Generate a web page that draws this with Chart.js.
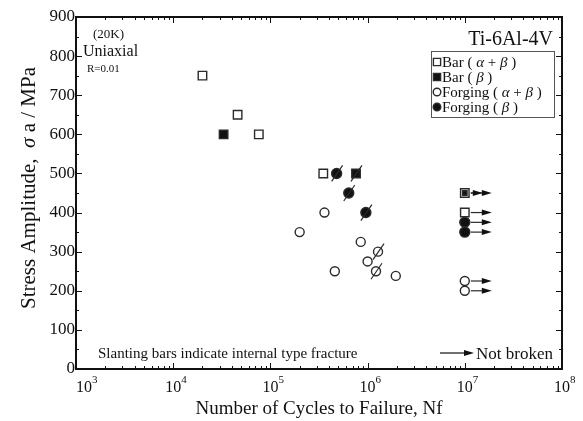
<!DOCTYPE html>
<html>
<head>
<meta charset="utf-8">
<script src="https://cdn.jsdelivr.net/npm/chart.js@4.4.0/dist/chart.umd.min.js"></script>
<style>
  html, body { margin: 0; padding: 0; background: #fff; }
</style>
</head>
<body>
<canvas id="snChart" width="583" height="421"></canvas>
<script>
const SERIF = '"Liberation Serif", "DejaVu Serif", serif';

// cycles to failure, stress amplitude (MPa), note: S = slanting bar (internal fracture), R = not broken
const barAlphaBetaN = [2.0e4, 4.6e4, 7.6e4, 3.5e5, 1e7, 1e7];
const barAlphaBetaS = [750, 650, 600, 500, 450, 400];
const barAlphaBetaNote = ['', '', '', '', 'R', 'R'];

const barBetaN = [3.3e4, 7.6e5, 1e7];
const barBetaS = [600, 500, 450];
const barBetaNote = ['', 'S', 'R'];

const forgAlphaBetaN = [3.6e5, 2.0e5, 8.5e5, 1.28e6, 1.0e6, 1.22e6, 4.6e5, 1.95e6, 1e7, 1e7];
const forgAlphaBetaS = [400, 350, 325, 300, 275, 250, 250, 238, 225, 200];
const forgAlphaBetaNote = ['', '', '', 'S', '', 'S', '', '', 'R', 'R'];

const forgBetaN = [4.8e5, 6.4e5, 9.6e5, 1e7, 1e7];
const forgBetaS = [500, 450, 400, 375, 350];
const forgBetaNote = ['S', 'S', 'S', 'R', 'R'];

const legendLabels = ['Bar ( α + β )', 'Bar ( β )', 'Forging ( α + β )', 'Forging ( β )'];
const xDecades = [3, 4, 5, 6, 7, 8];
const yTicks = [0, 100, 200, 300, 400, 500, 600, 700, 800, 900];

const INK = '#2a2a2a';

function points(n, s) {
  return n.map((v, i) => ({ x: v, y: s[i] }));
}

// draw text where greek letters are italic
function richText(ctx, text, x, y, size, align) {
  const parts = [];
  for (const ch of text) {
    const it = /[α-ω]/.test(ch);
    if (parts.length && parts[parts.length - 1].it === it) parts[parts.length - 1].t += ch;
    else parts.push({ t: ch, it: it });
  }
  let w = 0;
  parts.forEach(p => {
    ctx.font = (p.it ? 'italic ' : '') + size + 'px ' + SERIF;
    p.w = ctx.measureText(p.t).width;
    w += p.w;
  });
  let cx = align === 'center' ? x - w / 2 : x;
  ctx.textAlign = 'left';
  parts.forEach(p => {
    ctx.font = (p.it ? 'italic ' : '') + size + 'px ' + SERIF;
    ctx.fillText(p.t, cx, y);
    cx += p.w;
  });
}

function marker(ctx, style, filled, x, y, r) {
  ctx.save();
  ctx.lineWidth = 1.4;
  ctx.strokeStyle = INK;
  ctx.fillStyle = filled ? '#111' : '#fff';
  ctx.beginPath();
  if (style === 'rect') ctx.rect(x - r, y - r, 2 * r, 2 * r);
  else ctx.arc(x, y, r, 0, Math.PI * 2);
  ctx.fill();
  ctx.stroke();
  ctx.restore();
}

function arrow(ctx, x0, x1, y) {
  ctx.beginPath();
  ctx.moveTo(x0, y);
  ctx.lineTo(x1 - 6, y);
  ctx.stroke();
  ctx.beginPath();
  ctx.moveTo(x1, y);
  ctx.lineTo(x1 - 10, y - 3);
  ctx.lineTo(x1 - 10, y + 3);
  ctx.closePath();
  ctx.fill();
}

// slanting bars and "not broken" arrows
const notesPlugin = {
  id: 'notes',
  afterDatasetsDraw(chart) {
    const ctx = chart.ctx;
    const xs = chart.scales.x, ys = chart.scales.y;
    const done = {};
    ctx.save();
    ctx.strokeStyle = INK;
    ctx.fillStyle = '#111';
    ctx.lineWidth = 1.2;
    chart.data.datasets.forEach(ds => {
      ds.data.forEach((p, i) => {
        const px = xs.getPixelForValue(p.x);
        const py = ys.getPixelForValue(p.y);
        if (ds.notes[i] === 'S') {
          ctx.beginPath();
          ctx.moveTo(px - 5, py + 8);
          ctx.lineTo(px + 6, py - 8);
          ctx.stroke();
        } else if (ds.notes[i] === 'R') {
          const key = Math.round(py);
          const tip = done[key] ? px + 18 : px + 27;
          arrow(ctx, px + 6, tip, py);
          done[key] = true;
        }
      });
    });
    ctx.restore();
  }
};

// frame, inward ticks, labels, annotations and legend box
const framePlugin = {
  id: 'frame',
  afterDraw(chart) {
    const ctx = chart.ctx;
    const a = chart.chartArea;
    const xs = chart.scales.x, ys = chart.scales.y;
    ctx.save();
    ctx.strokeStyle = '#111';
    ctx.fillStyle = '#111';

    ctx.lineWidth = 1;
    ctx.beginPath();
    xDecades.forEach((d, k) => {
      if (k === xDecades.length - 1) return;
      for (let m = 1; m < 10; m++) {
        const px = Math.round(xs.getPixelForValue(m * Math.pow(10, d))) + 0.5;
        const len = m === 1 ? 6 : 3;
        ctx.moveTo(px, a.bottom); ctx.lineTo(px, a.bottom - len);
        ctx.moveTo(px, a.top); ctx.lineTo(px, a.top + len);
      }
    });
    for (let v = 0; v <= 900; v += 50) {
      const py = Math.round(ys.getPixelForValue(v)) + 0.5;
      const len = v % 100 === 0 ? 6 : 3;
      ctx.moveTo(a.left, py); ctx.lineTo(a.left + len, py);
      ctx.moveTo(a.right, py); ctx.lineTo(a.right - len, py);
    }
    ctx.stroke();

    ctx.lineWidth = 2;
    ctx.strokeRect(a.left, a.top, a.right - a.left, a.bottom - a.top);

    // y tick labels
    ctx.font = '17px ' + SERIF;
    ctx.textAlign = 'right';
    ctx.textBaseline = 'middle';
    yTicks.forEach(v => ctx.fillText(String(v), a.left - 1, ys.getPixelForValue(v)));

    // x tick labels as 10 with superscript
    ctx.textBaseline = 'alphabetic';
    xDecades.forEach((d, k) => {
      const px = xs.getPixelForValue(Math.pow(10, d)) + (k === 0 ? 8 : 0);
      ctx.font = '16px ' + SERIF;
      ctx.textAlign = 'center';
      ctx.fillText('10', px, 392);
      ctx.font = '11px ' + SERIF;
      ctx.textAlign = 'left';
      ctx.fillText(String(d), px + 8, 383);
    });

    // axis titles
    ctx.textBaseline = 'alphabetic';
    richText(ctx, 'Number of Cycles to Failure, Nf', (a.left + a.right) / 2, 414, 19, 'center');
    ctx.save();
    ctx.translate(35, (a.top + a.bottom) / 2 - 5);
    ctx.rotate(-Math.PI / 2);
    richText(ctx, 'Stress Amplitude,  σ a / MPa', 0, 0, 21, 'center');
    ctx.restore();

    // annotations
    ctx.textAlign = 'left';
    ctx.font = '13px ' + SERIF;
    ctx.fillText('(20K)', 93, 38);
    ctx.font = '16px ' + SERIF;
    ctx.fillText('Uniaxial', 83, 56);
    ctx.font = '11px ' + SERIF;
    ctx.fillText('R=0.01', 87, 72);
    ctx.font = '20px ' + SERIF;
    ctx.textAlign = 'right';
    ctx.fillText('Ti-6Al-4V', 553, 45);
    ctx.textAlign = 'left';
    ctx.font = '15px ' + SERIF;
    ctx.fillText('Slanting bars indicate internal type fracture', 98, 358);
    ctx.font = '17px ' + SERIF;
    ctx.fillText('Not broken', 476, 359);
    ctx.lineWidth = 1.2;
    arrow(ctx, 440, 474, 353);

    // legend
    ctx.lineWidth = 1;
    ctx.strokeStyle = '#555';
    ctx.strokeRect(431.5, 51.5, 123, 66);
    const styles = [['rect', false], ['rect', true], ['circle', false], ['circle', true]];
    legendLabels.forEach((lab, i) => {
      const y = 62 + i * 15;
      marker(ctx, styles[i][0], styles[i][1], 437, y, styles[i][0] === 'rect' ? 3.6 : 3.8);
      ctx.fillStyle = '#111';
      ctx.textBaseline = 'middle';
      richText(ctx, lab, 442, y + 1, 15, 'left');
    });
    ctx.restore();
  }
};

const ctx = document.getElementById('snChart').getContext('2d');
new Chart(ctx, {
  type: 'scatter',
  data: {
    datasets: [
      {
        label: 'Bar (α+β)',
        data: points(barAlphaBetaN, barAlphaBetaS),
        notes: barAlphaBetaNote,
        pointStyle: 'rect',
        pointRadius: 6,
        backgroundColor: '#fff',
        borderColor: INK,
        borderWidth: 1.4,
        order: 4
      },
      {
        label: 'Bar (β)',
        data: points(barBetaN, barBetaS),
        notes: barBetaNote,
        pointStyle: 'rect',
        pointRadius: barBetaNote.map(n => n === 'R' ? 3.2 : 6),
        backgroundColor: '#111',
        borderColor: INK,
        borderWidth: 1.4,
        order: 1
      },
      {
        label: 'Forging (α+β)',
        data: points(forgAlphaBetaN, forgAlphaBetaS),
        notes: forgAlphaBetaNote,
        pointStyle: 'circle',
        pointRadius: 4.5,
        backgroundColor: '#fff',
        borderColor: INK,
        borderWidth: 1.4,
        order: 3
      },
      {
        label: 'Forging (β)',
        data: points(forgBetaN, forgBetaS),
        notes: forgBetaNote,
        pointStyle: 'circle',
        pointRadius: 5,
        backgroundColor: '#111',
        borderColor: INK,
        borderWidth: 1.4,
        order: 2
      }
    ]
  },
  options: {
    responsive: false,
    animation: false,
    devicePixelRatio: 1,
    layout: { padding: { left: 76, top: 17, right: 21, bottom: 52 } },
    scales: {
      x: { type: 'logarithmic', min: 1e3, max: 1e8, display: false },
      y: { type: 'linear', min: 0, max: 900, display: false }
    },
    plugins: {
      legend: { display: false },
      tooltip: { enabled: false }
    }
  },
  plugins: [notesPlugin, framePlugin]
});
</script>
</body>
</html>
